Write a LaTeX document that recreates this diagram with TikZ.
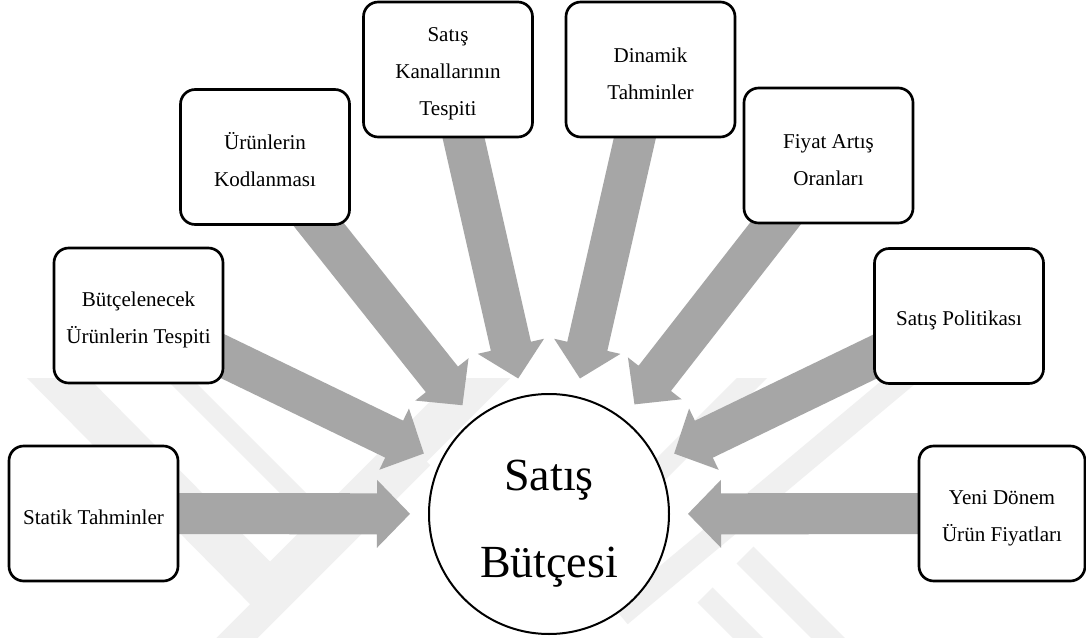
\documentclass[tikz,border=0pt]{standalone}
\usepackage{fontspec}
\setmainfont{Liberation Serif}
\usetikzlibrary{calc}

\definecolor{arrowgray}{HTML}{A6A6A6}
\definecolor{markgray}{HTML}{F0F0F0}

\pgfdeclarelayer{bg}
\pgfsetlayers{bg,main}

% extra room above the first line of text
\newcommand\boxgap{\rule{0pt}{17pt}}
\newcommand\hubgap{\rule{0pt}{38pt}}

% thick grey block arrow from a node centre to a tip coordinate
\newcommand\blockarrow[2]{%
  \fill[arrowgray] let \p1=(#1), \p2=(#2),
    \n1={atan2(\y2-\y1,\x2-\x1)}, \n2={veclen(\x2-\x1,\y2-\y1)} in
    [shift={(\p2)}, rotate=\n1]
    ({-\n2*1pt},15.4pt) -- (-24.75pt,15.4pt) -- (-24.75pt,25.5pt) -- (0pt,0pt)
    -- (-24.75pt,-25.5pt) -- (-24.75pt,-15.4pt) -- ({-\n2*1pt},-15.4pt) -- cycle;}

\tikzset{
  box/.style={draw, line width=2pt, rounded corners=11pt, fill=white,
    minimum width=126.75pt, minimum height=101.25pt, inner sep=0pt,
    align=center, font=\fontsize{15.8}{27.75}\selectfont},
  hub/.style={circle, draw, line width=1.5pt, fill=white, minimum size=180pt,
    inner sep=0pt, align=center, font=\fontsize{34.5}{65.25}\selectfont},
  wmband/.style={markgray, line width=#1, line cap=butt},
  wmband/.default=30pt
}

\begin{document}
\begin{tikzpicture}[x=0.75pt, y=-0.75pt]
\useasboundingbox (0,0) rectangle (1086,638);

% topic boxes
\node[box] (b1) at (93.5,513.5) {\boxgap Statik Tahminler};
\node[box] (b2) at (138.5,315.5) {\boxgap Bütçelenecek\\Ürünlerin Tespiti};
\node[box] (b3) at (265,157) {\boxgap Ürünlerin\\Kodlanması};
\node[box] (b4) at (448,69.5) {\boxgap Satış\\Kanallarının\\Tespiti};
\node[box] (b5) at (650.5,69.5) {\boxgap Dinamik\\Tahminler};
\node[box] (b6) at (828.5,155.5) {\boxgap Fiyat Artış\\Oranları};
\node[box] (b7) at (959,316) {\boxgap Satış Politikası};
\node[box, minimum width=124.5pt] (b8) at (1002,513.5) {\boxgap Yeni Dönem\\Ürün Fiyatları};

% central circle
\node[hub] (c) at (549,514) {\hubgap Satış\\Bütçesi};

% arrow tips, a fixed distance out from the circle centre
\foreach \i in {1,...,8}
  \coordinate (t\i) at ($(c.center)!104.25pt!(b\i.center)$);

\begin{pgfonlayer}{bg}
  \fill[white] (0,0) rectangle (1086,638);
  % faint background mark
  \begin{scope}
    \clip (0,378) rectangle (1086,638);
    \draw[wmband=33pt] (40,360) -- (267,590);
    \draw[wmband=14pt] (160,360) -- (335,535);
    \draw[wmband=30pt] (255,605) -- (500,360);
    \draw[wmband=22pt] (215,660) -- (420,455);
    \draw[wmband=18pt] (620,615) -- (925,360);
    \draw[wmband=16pt] (630,500) -- (770,360);
    \draw[wmband=18pt] (745,555) -- (870,680);
    \draw[wmband=16pt] (705,595) -- (800,690);
  \end{scope}
  % arrows into the circle
  \foreach \i in {1,...,8}
    \blockarrow{b\i.center}{t\i};
\end{pgfonlayer}
\end{tikzpicture}
\end{document}
